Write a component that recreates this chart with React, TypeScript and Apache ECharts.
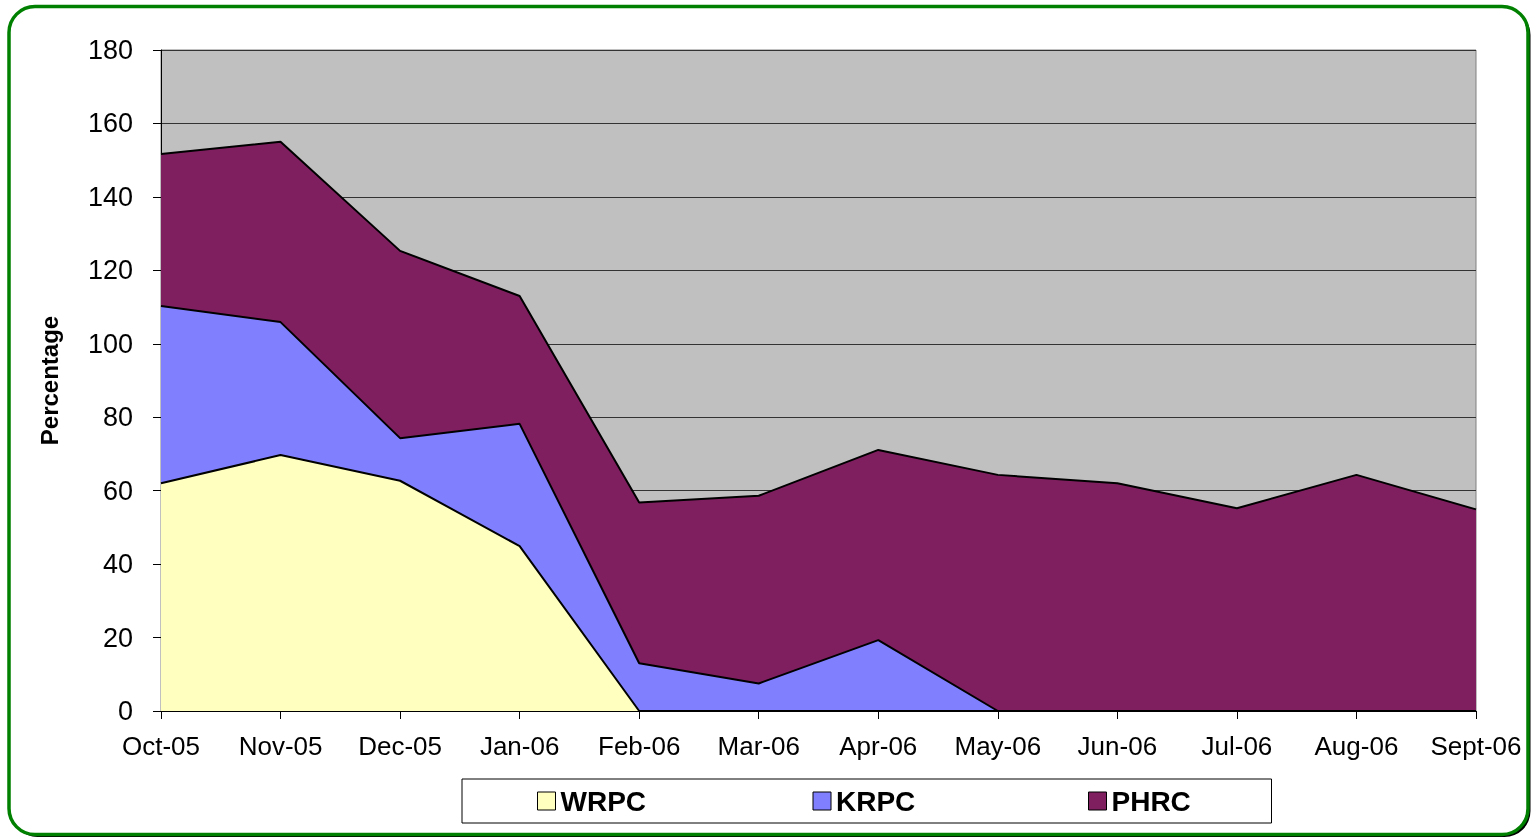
import React, { useEffect, useRef } from "react";
import * as echarts from "echarts";

const categories = ["Oct-05", "Nov-05", "Dec-05", "Jan-06", "Feb-06", "Mar-06", "Apr-06", "May-06", "Jun-06", "Jul-06", "Aug-06", "Sept-06"];
const wrpc = [62.0, 69.7, 62.7, 44.9, 0, 0, 0, 0, 0, 0, 0, 0];
const krpc = [48.3, 36.2, 11.6, 33.3, 13.0, 7.5, 19.3, 0, 0, 0, 0, 0];
const phrc = [41.4, 49.1, 51.0, 34.8, 43.8, 51.1, 51.8, 64.3, 62.0, 55.2, 64.3, 54.9];
const seriesNames = ["WRPC", "KRPC", "PHRC"];
const seriesColors = ["#FFFFC0", "#8080FF", "#7F1F5F"];
const yTicks = { min: 0, max: 180, interval: 20 };

const FONT = "'Liberation Sans', Arial, sans-serif";

export default function App() {
  const ref = useRef<HTMLDivElement>(null);
  useEffect(() => {
    if (!ref.current) return;
    const chart = echarts.init(ref.current, null, { renderer: "svg" });
    const data = [wrpc, krpc, phrc];
    chart.setOption({
      animation: false,
      backgroundColor: "transparent",
      graphic: [
        {
          type: "rect",
          z: -20,
          shape: { x: 11.5, y: 9, width: 1519, height: 828, r: 26 },
          style: { fill: "#000" },
        },
        {
          type: "rect",
          z: -19,
          shape: { x: 9, y: 6.5, width: 1519, height: 828, r: 26 },
          style: { fill: "#fff", stroke: "#008000", lineWidth: 3.5 },
        },
      ],
      grid: {
        left: 161,
        right: 56,
        top: 50,
        bottom: 127,
        show: true,
        backgroundColor: "#C0C0C0",
        borderColor: "#808080",
        borderWidth: 1,
      },
      legend: {
        left: 462,
        top: 779,
        orient: "horizontal",
        data: seriesNames,
        icon: "rect",
        itemWidth: 18,
        itemHeight: 18,
        itemGap: 152,
        padding: [8, 60, 8, 75],
        borderColor: "#000",
        borderWidth: 1,
        backgroundColor: "#fff",
        itemStyle: { borderColor: "#000", borderWidth: 1 },
        textStyle: {
          fontFamily: FONT,
          fontSize: 28,
          fontWeight: "bold",
          color: "#000",
          width: 100,
          lineHeight: 28,
        },
      },
      xAxis: {
        type: "category",
        data: categories,
        boundaryGap: false,
        axisLine: { lineStyle: { color: "#000", width: 1 } },
        axisTick: { show: true, length: 8, lineStyle: { color: "#000" } },
        axisLabel: { color: "#000", fontFamily: FONT, fontSize: 26, margin: 22 },
        splitLine: { show: false },
      },
      yAxis: {
        type: "value",
        min: yTicks.min,
        max: yTicks.max,
        interval: yTicks.interval,
        name: "Percentage",
        nameLocation: "middle",
        nameGap: 100,
        nameRotate: 90,
        nameTextStyle: { fontFamily: FONT, fontSize: 24, fontWeight: "bold", color: "#000" },
        axisLine: { show: true, lineStyle: { color: "#000", width: 1 } },
        axisTick: { show: true, length: 8, lineStyle: { color: "#000" } },
        axisLabel: { color: "#000", fontFamily: FONT, fontSize: 27, margin: 28 },
        splitLine: { show: true, lineStyle: { color: "#333", width: 1 } },
      },
      series: seriesNames.map((name, i) => ({
        name,
        type: "line",
        stack: "total",
        data: data[i],
        symbol: "none",
        lineStyle: { color: "#000", width: 2 },
        itemStyle: { color: seriesColors[i], borderColor: "#000", borderWidth: 1 },
        areaStyle: { color: seriesColors[i], opacity: 1 },
      })),
    });
    return () => chart.dispose();
  }, []);
  return (
    <div
      ref={ref}
      style={{ position: "fixed", left: 0, top: 0, width: 1532, height: 838 }}
    />
  );
}
